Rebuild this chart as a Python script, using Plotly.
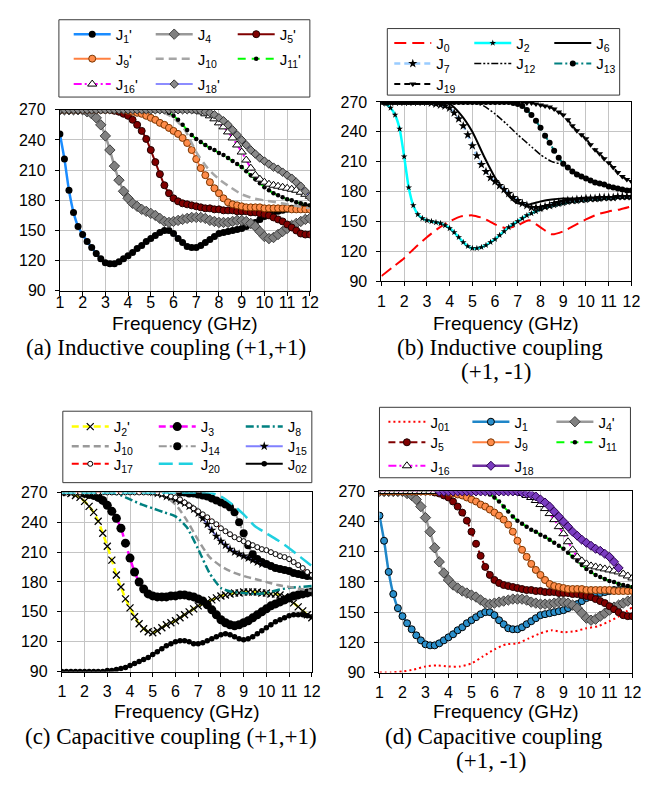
import plotly.graph_objects as go

W, H = 662, 797
FONT = "Arial, Liberation Sans, sans-serif"
SERIF = "Times New Roman, Liberation Serif, serif"

# ---------------- data ----------------
FREQ = [1.0, 1.2, 1.4, 1.6, 1.8, 2.0, 2.2, 2.4, 2.6, 2.8, 3.0, 3.2, 3.4, 3.6, 3.8,
        4.0, 4.2, 4.4, 4.6, 4.8, 5.0, 5.2, 5.4, 5.6, 5.8, 6.0, 6.2, 6.4, 6.6, 6.8,
        7.0, 7.2, 7.4, 7.6, 7.8, 8.0, 8.2, 8.4, 8.6, 8.8, 9.0, 9.2, 9.4, 9.6, 9.8,
        10.0, 10.2, 10.4, 10.6, 10.8, 11.0, 11.2, 11.4, 11.6, 11.8, 12.0]
FREQ_HALF = [1.0, 1.5, 2.0, 2.5, 3.0, 3.5, 4.0, 4.5, 5.0, 5.5, 6.0, 6.5, 7.0, 7.5,
             8.0, 8.5, 9.0, 9.5, 10.0, 10.5, 11.0, 11.5, 12.0]
X_TICKS = [1, 2, 3, 4, 5, 6, 7, 8, 9, 10, 11, 12]
Y_TICKS = [90, 120, 150, 180, 210, 240, 270]

# (a) inductive (+1,+1)  -- also reused in (d)
A_J1 = [246, 221, 190, 168, 154, 146, 139, 133, 127, 122, 118, 117, 117, 119, 122,
        125, 128, 132, 135, 139, 142, 145, 148, 150, 150, 147, 142, 138, 134, 133,
        133, 135, 138, 141, 144, 147, 148, 149, 150, 151, 152, 154, 156, 158, 161,
        164, 166, 168, 169, 170, 171, 172, 172, 173, 173, 173]
A_J4 = [270, 270, 270, 270, 270, 270, 268, 266, 262, 255, 244, 230, 214, 200, 189,
        182, 177, 174, 171, 169, 167, 165, 162, 159, 158, 159, 160, 161, 162, 163,
        163, 163, 162, 160, 159, 158, 158, 158, 159, 160, 160, 159, 157, 154, 149,
        144, 142, 143, 146, 149, 152, 155, 157, 159, 161, 162]
A_J5 = [270, 270, 270, 270, 270, 270, 270, 270, 270, 270, 270, 270, 269, 268, 266,
        264, 260, 255, 249, 241, 230, 218, 206, 195, 187, 182, 179, 177, 176, 175,
        174, 173, 172, 172, 171, 171, 170, 170, 170, 169, 169, 169, 168, 168, 167,
        166, 165, 163, 161, 159, 156, 153, 150, 147, 146, 146]
A_J9 = [270, 270, 270, 270, 270, 270, 270, 270, 270, 270, 270, 270, 270, 270, 270,
        269, 268, 267, 266, 264, 262, 260, 257, 255, 252, 249, 246, 242, 237, 230,
        221, 212, 205, 198, 192, 187, 182, 178, 176, 175, 174, 173, 173, 173, 173,
        172, 172, 172, 172, 172, 172, 171, 171, 171, 171, 171]
A_J10 = [270, 270, 270, 270, 270, 270, 270, 270, 270, 268, 262, 250, 228, 212, 201,
         193, 186, 182, 180, 178, 176, 174, 172]
A_J11 = [270, 270, 270, 270, 270, 270, 270, 270, 270, 270, 270, 270, 270, 270, 270,
         270, 270, 270, 270, 270, 270, 270, 270, 269, 267, 264, 260, 255, 250, 245,
         241, 238, 235, 232, 230, 227, 225, 222, 219, 216, 213, 209, 205, 201, 197,
         193, 190, 187, 185, 183, 181, 180, 178, 177, 176, 175]
A_J16 = [270, 270, 270, 270, 270, 270, 270, 270, 270, 270, 270, 270, 270, 270, 270,
         270, 270, 270, 270, 270, 270, 270, 270, 270, 270, 270, 270, 270, 270, 270,
         269, 268, 266, 264, 261, 257, 253, 248, 242, 235, 228, 220, 212, 205, 201,
         198, 196, 195, 194, 193, 192, 191, 190, 188, 186, 184]
A_J18 = [270, 270, 270, 270, 270, 270, 270, 270, 270, 270, 270, 270, 270, 270, 270,
         270, 270, 270, 270, 270, 270, 270, 270, 270, 270, 270, 270, 270, 270, 270,
         270, 269, 268, 267, 265, 262, 259, 255, 250, 245, 240, 235, 230, 226, 222,
         219, 216, 213, 211, 208, 205, 202, 198, 194, 189, 183]

# (b) inductive (+1,-1)
B_J0 = [95, 104, 113, 124, 134, 143, 150, 155, 156, 153, 147, 143, 146, 151, 144,
        137, 140, 146, 152, 157, 160, 162, 165]
B_J2 = [270, 268, 264, 257, 243, 215, 184, 166, 157, 153, 151, 150, 149, 148, 146,
        143, 139, 134, 129, 125, 123, 123, 124, 126, 129, 132, 136, 140, 144, 147,
        150, 153, 156, 158, 160, 162, 164, 165, 166, 167, 168, 169, 170, 170, 171,
        171, 172, 172, 172, 173, 173, 173, 174, 174, 174, 174]
B_J6 = [270, 270, 270, 270, 270, 270, 268, 257, 240, 216, 194, 178, 168, 167, 170,
        172, 173, 173, 174, 174, 174, 174, 174]
B_J7 = [270, 270, 270, 270, 270, 270, 270, 270, 270, 270, 270, 269, 268, 267, 266,
        264, 259, 253, 246, 237, 226, 216, 207, 200, 194, 190, 186, 182, 178, 174,
        171, 168, 166, 164, 164, 164, 165, 166, 168, 169, 170, 171, 171, 172, 172,
        173, 173, 173, 174, 174, 174, 174, 175, 175, 175, 175]
B_J12 = [270, 270, 270, 270, 270, 270, 270, 270, 269, 266, 258, 248, 237, 227, 217,
         210, 207, 200, 194, 189, 185, 182, 181]
B_J13 = [270, 270, 270, 270, 270, 270, 270, 270, 270, 270, 270, 270, 270, 270, 270,
         270, 270, 270, 270, 270, 270, 270, 270, 270, 270, 270, 270, 270, 270, 269,
         268, 266, 262, 257, 251, 244, 236, 229, 221, 214, 208, 204, 200, 197, 195,
         193, 191, 189, 188, 187, 185, 184, 183, 182, 181, 181]
B_J19 = [270, 270, 270, 270, 270, 270, 270, 270, 270, 270, 270, 270, 270, 270, 270,
         270, 270, 270, 270, 270, 270, 270, 270, 270, 270, 270, 270, 270, 270, 270,
         270, 270, 269, 269, 268, 267, 266, 265, 263, 260, 257, 252, 246, 241, 237,
         233, 227, 222, 218, 213, 209, 204, 199, 195, 192, 190]

# (c) capacitive (+1,+1)
C_J2 = [270, 270, 269, 267, 265, 261, 256, 250, 241, 229, 216, 202, 187, 175, 163,
        154, 145, 138, 133, 130, 129, 131, 134, 137, 139, 141, 144, 147, 150, 153,
        156, 158, 160, 162, 164, 166, 167, 168, 169, 169, 170, 170, 170, 170, 169,
        169, 168, 168, 167, 165, 162, 159, 155, 151, 147, 144]
C_J3 = [None, None, None, None, None, 269, 268, 267, 265, 262, 257, 251, 244, 234, 219,
        204, 190, 180, 173, 168, 166, 165, 165, 165, 166, 166, 167, 167, 166, 165,
        163, 161, 157, 152, 147, 142, 139, 137, 136, 137, 139, 141, 144, 147, 150,
        153, 156, 158, 160, 162, 164, 166, 167, 168, 169, 170]
C_J8 = [270, 270, 270, 270, 270, 268, 263, 258, 254, 250, 246, 235, 213, 189, 174,
        170, 169, 168, 169, 172, 174, 175, 176]
C_J10 = [270, 270, 270, 270, 270, 270, 270, 270, 270, 267, 258, 242, 222, 205, 196,
         190, 186, 183, 180, 177, 175, 173, 171]
C_J14 = [None, None, None, None, None, None, None, None, None, None, None, None, None,
         None, None, None, None, None, None, None, None, None, None, None, None, None,
         270, 270, 269, 269, 268, 267, 266, 264, 262, 260, 258, 255, 250, 240,
         229, 217, 208, 203, 200, 198, 196, 194, 193, 192, 191, 189, 188, 187, 186, 186]
C_J15 = [None, None, None, None, None, None, None, None, None, None, None, None, None,
         None, None, None, None, None, None, None,
         270, 269, 268, 266, 265, 263, 261, 259, 256, 253, 249, 244, 238, 232, 226,
         221, 217, 213, 210, 208, 206, 204, 202, 200, 198,
         None, None, None, None, None, None, None, None, None, None, None]
C_J17 = [270, 270, 270, 270, 270, 270, 270, 270, 270, 270, 270, 270, 270, 270, 270,
         270, 270, 270, 270, 270, 270, 270, 269, 268, 266, 265, 263, 260, 257, 254,
         251, 248, 245, 241, 238, 234, 231, 228, 225, 223, 221, 219, 217, 215, 213,
         212, 210, 208, 206, 205, 203, 200, 197, 194, 190, 187]
C_J20 = [270, 270, 270, 270, 270, 270, 270, 270, 270, 270, 270, 270, 270, 270, 266,
         258, 248, 236, 229, 222, 214, 205, 196]
C_J02 = [90, 90, 90, 90, 90, 90, 90, 90, 90, 90, 91, 91, 92, 93, 94,
         96, 98, 100, 102, 104, 107, 110, 113, 116, 118, 120, 121, 121, 120, 118,
         118, 119, 121, 123, 125, 127, 128, 127, 125, 123, 122, 123, 125, 128, 131,
         134, 137, 140, 142, 144, 146, 147, 147, 147, 146, 145]

# (d) capacitive (+1,-1)
D_J01 = [90, 90, 91, 93, 96, 97, 96, 96, 99, 106, 113, 118, 119, 124, 129, 132, 130,
         131, 134, 136, 141, 147, 155]
D_J18 = [None, None, None, None, None, None, None, None, None, None, None, None, None,
         270, 270, 270, 270, 270, 270, 270, 270, 270, 270, 270, 270, 270, 270, 270,
         270, 270, 270, 269, 268, 267, 265, 262, 259, 255, 250, 245, 240, 235, 230,
         226, 222, 219, 216, 213, 211, 208, 205, 200, 194, None, None, None]

for arr in [A_J1, A_J4, A_J5, A_J9, A_J11, A_J16, A_J18, B_J2, B_J7, B_J13, B_J19,
            C_J2, C_J3, C_J14, C_J15, C_J17, C_J02, D_J18]:
    assert len(arr) == len(FREQ), len(arr)
for arr in [A_J10, B_J0, B_J6, B_J12, C_J8, C_J10, C_J20, D_J01]:
    assert len(arr) == len(FREQ_HALF), len(arr)


# ---------------- layout helpers ----------------
def px(x):
    return x / W


def py(y):
    return 1 - y / H


# plot-area pixel boxes: (left, right, top, bottom)
PANELS = {
    1: (57, 312, 104, 289),
    2: (385, 640, 96, 279),
    3: (59, 314, 495, 678),
    4: (383, 641, 494, 679),
}

fig = go.Figure()


def add(panel, legend, name, x, y, color, width=2.0, dash="solid",
        msym=None, msize=0, mfill=None, mline=None, mlw=1.0):
    sfx = "" if panel == 1 else str(panel)
    kw = dict(x=x, y=y, name=name, xaxis="x" + sfx, yaxis="y" + sfx,
              legend=legend, hoverinfo="skip",
              line=dict(color=color, width=width, dash=dash, shape="spline", smoothing=0.6))
    if msym:
        kw["mode"] = "lines+markers"
        kw["marker"] = dict(symbol=msym, size=msize, color=mfill,
                            line=dict(color=mline if mline else mfill, width=mlw))
    else:
        kw["mode"] = "lines"
    fig.add_trace(go.Scatter(**kw))


DASH = "7px,4px"
DASHDOT = "8px,3px,2px,3px"

# ---- (a)
add(1, "legend", "J<sub>1</sub>'", FREQ, A_J1, "#1A8CFF", 2.5, "solid", "circle", 7, "black", "black", 0)
add(1, "legend", "J<sub>4</sub>", FREQ, A_J4, "#999999", 2.5, "solid", "diamond", 8, "#808080", "#404040", 1)
add(1, "legend", "J<sub>5</sub>'", FREQ, A_J5, "#800000", 2.0, "solid", "circle", 7, "#800000", "#200000", 1)
add(1, "legend2", "J<sub>9</sub>'", FREQ, A_J9, "#FF8040", 2.0, "solid", "circle", 7, "#FF8C4A", "#7A3500", 1)
add(1, "legend2", "J<sub>10</sub>", FREQ_HALF, A_J10, "#A6A6A6", 2.5, "8px,5px")
add(1, "legend2", "J<sub>11</sub>'", FREQ, A_J11, "#00FF00", 2.0, "8px,6px", "circle", 4.5, "black", "black", 0)
add(1, "legend3", "J<sub>16</sub>'", FREQ, A_J16, "#FF00FF", 2.0, DASHDOT, "triangle-up", 8, "white", "black", 1)
add(1, "legend3", "J<sub>18</sub>'", FREQ, A_J18, "#8C8CFF", 2.0, "solid", "diamond", 6.5, "#8A8A8A", "#303030", 1)

# ---- (b)
add(2, "legend4", "J<sub>0</sub>", FREQ_HALF, B_J0, "#FF0000", 2.0, "12px,6px")
add(2, "legend4", "J<sub>2</sub>", FREQ, B_J2, "#00FFFF", 2.5, "solid", "star", 5, "black", "black", 0)
add(2, "legend4", "J<sub>6</sub>", FREQ_HALF, B_J6, "black", 2.0, "solid")
add(2, "legend5", "J<sub>7</sub>", FREQ, B_J7, "#99CCFF", 2.5, "6px,4px", "star", 7, "black", "black", 0)
add(2, "legend5", "J<sub>12</sub>", FREQ_HALF, B_J12, "black", 1.5, "7px,2px,2px,2px,2px,2px")
add(2, "legend5", "J<sub>13</sub>", FREQ, B_J13, "#008080", 2.0, DASHDOT, "circle", 6, "black", "black", 0)
add(2, "legend6", "J<sub>19</sub>", FREQ, B_J19, "black", 2.0, "6px,4px", "triangle-down", 6, "black", "black", 0)

# ---- (c)
add(3, "legend7", "J<sub>2</sub>'", FREQ, C_J2, "#FFFF00", 2.5, DASH, "x-thin-open", 7, "black", "black", 1.3)
add(3, "legend7", "J<sub>3</sub>", FREQ, C_J3, "#FF00FF", 2.5, DASH, "circle", 9, "black", "black", 0)
add(3, "legend7", "J<sub>8</sub>", FREQ_HALF, C_J8, "#008080", 2.5, DASHDOT)
add(3, "legend8", "J<sub>10</sub>", FREQ_HALF, C_J10, "#999999", 2.5, DASH)
add(3, "legend8", "J<sub>14</sub>", FREQ, C_J14, "#999999", 2.0, DASHDOT, "circle", 8, "black", "black", 0)
add(3, "legend8", "J<sub>15</sub>", FREQ, C_J15, "#8080FF", 2.0, "solid", "star", 7, "black", "black", 0)
add(3, "legend9", "J<sub>17</sub>", FREQ, C_J17, "#FF0000", 2.0, DASH, "circle", 5, "white", "black", 1)
add(3, "legend9", "J<sub>20</sub>", FREQ_HALF, C_J20, "#20D0E0", 2.5, "14px,6px")
add(3, "legend9", "J<sub>02</sub>", FREQ, C_J02, "black", 2.0, "solid", "circle", 5.5, "black", "black", 0)

# ---- (d)
add(4, "legend10", "J<sub>01</sub>", FREQ_HALF, D_J01, "#FF0000", 2.0, "2px,3px")
add(4, "legend10", "J<sub>1</sub>", FREQ, A_J1, "#1F86C8", 2.5, "solid", "circle", 7, "#2A8FCB", "black", 1)
add(4, "legend10", "J<sub>4</sub>'", FREQ, A_J4, "#999999", 2.5, "solid", "diamond", 8, "#808080", "#404040", 1)
add(4, "legend11", "J<sub>5</sub>", FREQ, A_J5, "#800000", 2.0, DASH, "circle", 7, "#800000", "#200000", 1)
add(4, "legend11", "J<sub>9</sub>", FREQ, A_J9, "#FF8040", 2.0, "solid", "circle", 7, "#FF8C4A", "#7A3500", 1)
add(4, "legend11", "J<sub>11</sub>", FREQ, A_J11, "#00FF00", 2.0, "8px,6px", "circle", 4.5, "black", "black", 0)
add(4, "legend12", "J<sub>16</sub>", FREQ, A_J16, "#FF00FF", 2.0, DASHDOT, "triangle-up", 8, "white", "black", 1)
add(4, "legend12", "J<sub>18</sub>", FREQ, D_J18, "#7030A0", 2.5, "solid", "diamond", 7, "#7A3CC0", "#2A0050", 1)

# ---------------- axes ----------------
layout = dict(width=W, height=H, margin=dict(l=0, r=0, t=0, b=0),
              paper_bgcolor="white", plot_bgcolor="white", showlegend=True,
              font=dict(family=FONT, color="black"))

STANDOFF_X = {1: -7, 2: 2, 3: 1, 4: 1}
for p, (l, r, t, b) in PANELS.items():
    sfx = "" if p == 1 else str(p)
    layout["xaxis" + sfx] = dict(
        domain=[px(l), px(r)], anchor="y" + sfx, range=[1, 12],
        tickmode="array", tickvals=X_TICKS, ticktext=[str(v) for v in X_TICKS],
        ticks="outside", ticklen=4, tickcolor="black", ticklabelstandoff=STANDOFF_X[p],
        showline=True, linecolor="black", linewidth=1, mirror=True,
        showgrid=True, gridcolor="#C4C4C4", gridwidth=1, zeroline=False,
        tickfont=dict(family=FONT, size=16, color="black"), fixedrange=True)
    layout["yaxis" + sfx] = dict(
        domain=[py(b), py(t)], anchor="x" + sfx, range=[90, 270],
        tickmode="array", tickvals=Y_TICKS, ticktext=[str(v) for v in Y_TICKS],
        ticks="outside", ticklen=4, tickcolor="black", ticklabelstandoff=6,
        showline=True, linecolor="black", linewidth=1, mirror=True,
        showgrid=True, gridcolor="#C4C4C4", gridwidth=1, zeroline=False,
        tickfont=dict(family=FONT, size=16, color="black"), fixedrange=True)

# ---------------- legends ----------------
LEG_ROWS = {
    # legend name: (x of first item origin px, row centre px, entry width)
    "legend": (66, 27, 30), "legend2": (66, 52, 30), "legend3": (66, 78, 30),
    "legend4": (393, 36, 28), "legend5": (393, 57, 28), "legend6": (393, 78, 28),
    "legend7": (64, 428, 35), "legend8": (64, 448, 35), "legend9": (64, 466, 35),
    "legend10": (387, 423, 32), "legend11": (387, 444, 32), "legend12": (387, 468, 32),
}
for name, (lx, ly, ew) in LEG_ROWS.items():
    layout[name] = dict(orientation="h", x=px(lx), y=py(ly), xanchor="left", yanchor="middle",
                        bgcolor="rgba(0,0,0,0)", borderwidth=0, entrywidth=ew, itemwidth=37,
                        entrywidthmode="pixels", font=dict(family=FONT, size=15, color="black"),
                        itemclick=False, itemdoubleclick=False)

LEG_BOXES = [(56, 12, 312, 91), (391, 21, 628, 89), (60, 412, 314, 485), (383, 408, 639, 480)]
shapes = []
for (x0, y0, x1, y1) in LEG_BOXES:
    shapes.append(dict(type="rect", xref="paper", yref="paper", x0=px(x0), x1=px(x1),
                       y0=py(y1), y1=py(y0), line=dict(color="#3A3A3A", width=1),
                       fillcolor="rgba(0,0,0,0)"))
layout["shapes"] = shapes

# ---------------- titles & captions ----------------
annotations = []
for p, (l, r, t, b) in PANELS.items():
    ty = 322 if p <= 2 else 719
    annotations.append(dict(text="Frequency (GHz)", x=px((l + r) / 2), y=py(ty), xref="paper",
                            yref="paper", xanchor="center", yanchor="middle", showarrow=False,
                            font=dict(family=FONT, size=19, color="black")))
CAPTIONS = [
    ("(a) Inductive coupling (+1,+1)", 165, 347),
    ("(b) Inductive coupling", 506, 347),
    ("(+1, -1)", 502, 371),
    ("(c) Capacitive coupling (+1,+1)", 170, 744),
    ("(d) Capacitive coupling", 500, 744),
    ("(+1, -1)", 497, 769),
]
for text, cx, cy in CAPTIONS:
    annotations.append(dict(text=text, x=px(cx), y=py(cy), xref="paper", yref="paper",
                            xanchor="center", yanchor="middle", showarrow=False,
                            font=dict(family=SERIF, size=23, color="black")))
layout["annotations"] = annotations

fig.update_layout(**layout)
fig.write_html("out.html")
